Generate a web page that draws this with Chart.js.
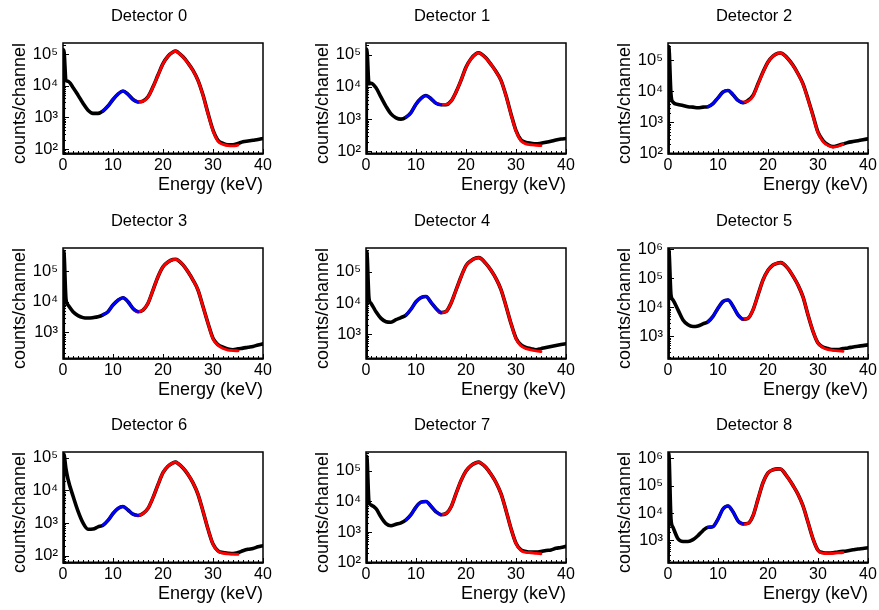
<!DOCTYPE html>
<html>
<head>
<meta charset="utf-8">
<title>Detector energy spectra</title>
<script src="https://cdn.jsdelivr.net/npm/chart.js@4/dist/chart.umd.min.js"></script>
<style>
  html, body { margin: 0; padding: 0; background: #fff; width: 879px; height: 610px; overflow: hidden; position: relative; }
  canvas { position: absolute; }
</style>
</head>
<body>
<script>
// Energy grid of the measured spectra (keV)
const energy = [0, 0.15, 0.6, 1, 2, 3, 4, 5, 6, 7, 8, 9, 10, 11, 12, 13, 14, 15, 16, 17, 18, 19, 20, 21, 22, 22.5,
                23, 24, 25, 26, 27, 28, 29, 30, 31, 32, 33, 34, 35, 36, 37, 38, 39, 40];

// Measured counts per channel, one array per detector
const det0 = [12, 140000, 15000, 14000, 8900, 5100, 2800, 1700, 1350, 1350, 1600, 2300, 3700, 5500, 6900, 5400, 3700, 3100, 3300, 4500, 9300, 22000, 51000, 87000, 118000, 127000,
              115000, 83000, 53000, 31000, 15000, 5100, 1350, 400, 190, 150, 135, 135, 150, 170, 180, 190, 200, 215];
const det1 = [12, 150000, 12500, 13000, 9400, 4800, 2500, 1450, 1100, 1000, 1150, 1600, 2900, 4400, 5400, 4300, 3100, 2800, 2800, 3600, 6900, 16000, 41000, 75000, 107000, 115000,
              107000, 79000, 50000, 30000, 16000, 5400, 1450, 440, 225, 190, 178, 170, 178, 190, 205, 225, 240, 250];
const det2 = [12, 280000, 8000, 4500, 3800, 3500, 3200, 3100, 2950, 3100, 3200, 4000, 6200, 9500, 10700, 7800, 5100, 4300, 5100, 7400, 17500, 42000, 89000, 138000, 170000, 173000,
              160000, 113000, 69000, 37000, 17500, 5700, 1660, 480, 260, 190, 165, 180, 200, 225, 240, 257, 275, 295];
const det3 = [12, 450000, 12000, 7800, 4700, 3500, 3000, 2900, 3000, 3200, 3700, 4700, 7800, 11200, 13500, 10000, 6000, 4700, 5300, 8900, 24000, 66000, 140000, 200000, 240000, 245000,
              230000, 160000, 95000, 51000, 24000, 6900, 1950, 630, 390, 320, 280, 265, 285, 300, 320, 340, 380, 415];
const det4 = [12, 450000, 14000, 9800, 5200, 3200, 2500, 2400, 2900, 3400, 4100, 6300, 11000, 15000, 16200, 10500, 6700, 4900, 5300, 9800, 26000, 69000, 160000, 230000, 280000, 290000,
              270000, 185000, 113000, 61000, 27000, 8000, 2200, 740, 450, 370, 340, 315, 340, 370, 400, 430, 460, 490];
const det5 = [12, 1000000, 27000, 18000, 8200, 3700, 2500, 2200, 2300, 2700, 3200, 4900, 9400, 16000, 18000, 11000, 5500, 3900, 4200, 8200, 27000, 88000, 190000, 290000, 340000, 350000,
              330000, 220000, 120000, 59000, 23000, 5500, 1500, 590, 430, 380, 350, 350, 380, 400, 430, 460, 480, 510];
const det6 = [12, 130000, 45000, 22000, 6700, 2300, 1000, 640, 650, 760, 850, 1200, 1950, 2800, 3200, 2500, 1860, 1700, 1950, 2800, 6000, 15000, 35000, 55000, 70000, 74000,
              67000, 49000, 31000, 17000, 7600, 2300, 650, 225, 140, 123, 118, 115, 123, 140, 155, 165, 185, 200];
const det7 = [12, 300000, 9500, 7700, 5800, 3100, 1900, 1600, 1800, 2000, 2500, 3700, 6600, 9500, 10000, 7000, 4600, 3700, 4000, 6600, 18000, 48000, 100000, 150000, 185000, 195000,
              180000, 130000, 78000, 42000, 18000, 5100, 1300, 430, 260, 230, 220, 220, 230, 250, 260, 295, 310, 340];
const det8 = [12, 1500000, 6000, 3000, 1150, 920, 920, 1070, 1500, 2300, 3000, 3200, 6000, 14000, 18000, 11000, 5200, 4000, 4200, 7900, 32000, 126000, 290000, 375000, 405000, 400000,
              340000, 190000, 100000, 48000, 18000, 4600, 1150, 440, 360, 345, 355, 380, 400, 425, 455, 490, 510, 540];

// Fit to the escape peak region (blue) and the main peak region (red)
const blueEnergy = [8, 9, 10, 11, 12, 13, 14, 15];
const redEnergy = [14.5, 15, 16, 17, 18, 19, 20, 21, 22, 22.5, 23, 24, 25, 26, 27, 28, 29, 30, 31, 32, 33, 34, 35];

const blue0 = [1600, 2300, 3700, 5500, 6800, 5400, 3700, 3050];
const red0 = [3350, 3150, 3250, 4400, 9100, 21500, 50000, 86000, 117000, 125000, 114000, 82000, 52000, 30500, 14800, 5000, 1300, 380, 175, 140, 128, 125, 132];
const blue1 = [1150, 1600, 2900, 4400, 5400, 4300, 3100, 2800];
const red1 = [3000, 2850, 2850, 3550, 6800, 16000, 40000, 74000, 106000, 114000, 106000, 78000, 50000, 29500, 15800, 5300, 1400, 420, 210, 170, 160, 152, 150];
const blue2 = [3200, 4000, 6200, 9500, 10700, 7800, 5100, 4300];
const red2 = [4800, 4500, 4800, 7000, 17000, 41000, 88000, 137000, 169000, 172000, 159000, 112000, 68000, 36500, 17000, 5500, 1600, 460, 240, 180, 160, 170, 195];
const blue3 = [3700, 4700, 7800, 11200, 13500, 10000, 6000, 4700];
const red3 = [5000, 4700, 5300, 8900, 24000, 66000, 140000, 200000, 240000, 245000, 230000, 160000, 95000, 51000, 24000, 6900, 1950, 600, 370, 290, 260, 250, 245];
const blue4 = [4100, 6300, 11000, 15000, 16200, 10500, 6700, 4900];
const red4 = [5300, 4900, 5300, 9800, 26000, 69000, 160000, 230000, 280000, 290000, 270000, 185000, 113000, 61000, 27000, 8000, 2200, 700, 420, 340, 310, 290, 275];
const blue5 = [3200, 4900, 9400, 16000, 18000, 11000, 5500, 3900];
const red5 = [4300, 3900, 4200, 8200, 27000, 88000, 190000, 290000, 340000, 350000, 330000, 220000, 120000, 59000, 23000, 5500, 1500, 580, 410, 350, 330, 315, 305];
const blue6 = [850, 1200, 1950, 2800, 3200, 2500, 1860, 1700];
const red6 = [1750, 1700, 1950, 2800, 6000, 15000, 35000, 55000, 70000, 74000, 67000, 49000, 31000, 17000, 7600, 2300, 650, 220, 135, 118, 112, 110, 108];
const blue7 = [2500, 3700, 6600, 9500, 10000, 7000, 4600, 3700];
const red7 = [4000, 3700, 4000, 6600, 18000, 48000, 100000, 150000, 185000, 195000, 180000, 130000, 78000, 42000, 18000, 5100, 1300, 420, 250, 215, 210, 200, 195];
const blue8 = [3000, 3200, 6000, 14000, 18000, 11000, 5200, 4000];
const red8 = [4300, 4000, 4200, 7900, 32000, 126000, 290000, 375000, 405000, 400000, 340000, 190000, 100000, 48000, 18000, 4600, 1150, 430, 345, 330, 340, 350, 360];

// Panel titles and vertical axis ranges
const titles = ['Detector 0', 'Detector 1', 'Detector 2', 'Detector 3', 'Detector 4', 'Detector 5', 'Detector 6', 'Detector 7', 'Detector 8'];
const yMin = [69.5, 82.6, 95.5, 132, 158, 166, 59, 97, 151];
const yMax = [228000, 231000, 363000, 575000, 590000, 1120000, 151000, 417000, 1660000];
const xTicks = [0, 10, 20, 30, 40];

const counts = [det0, det1, det2, det3, det4, det5, det6, det7, det8];
const blueFits = [blue0, blue1, blue2, blue3, blue4, blue5, blue6, blue7, blue8];
const redFits = [red0, red1, red2, red3, red4, red5, red6, red7, red8];

const FONT = '"Liberation Sans", Arial, Helvetica, sans-serif';
const SUP = { '0': '⁰', '1': '¹', '2': '²', '3': '³', '4': '⁴', '5': '⁵', '6': '⁶', '7': '⁷', '8': '⁸', '9': '⁹' };
function decadeLabel(v) {
  const e = Math.round(Math.log10(v));
  return '10' + String(e).split('').map(c => SUP[c]).join('');
}

// Frame around the plot area with inward tick marks on the bottom and left axes
const frameAxes = {
  id: 'frameAxes',
  afterDatasetsDraw(chart) {
    const { ctx, chartArea: a, scales: { x, y } } = chart;
    ctx.save();
    ctx.strokeStyle = '#000';
    ctx.lineWidth = 1.5;
    ctx.strokeRect(a.left, a.top, a.right - a.left, a.bottom - a.top);
    ctx.lineWidth = 2;
    ctx.beginPath();
    ctx.moveTo(a.left, a.bottom - 0.5);
    ctx.lineTo(a.right, a.bottom - 0.5);
    ctx.stroke();
    ctx.lineWidth = 1;
    ctx.beginPath();
    for (let e = 0; e <= 40; e += 1) {
      const px = Math.round(x.getPixelForValue(e)) + 0.5;
      const len = e % 10 === 0 ? 5 : 3;
      ctx.moveTo(px, a.bottom);
      ctx.lineTo(px, a.bottom - len);
    }
    const lo = Math.floor(Math.log10(y.min)), hi = Math.ceil(Math.log10(y.max));
    for (let d = lo; d <= hi; d++) {
      for (let m = 1; m <= 9; m++) {
        const v = m * Math.pow(10, d);
        if (v < y.min || v > y.max) continue;
        const py = Math.round(y.getPixelForValue(v)) + 0.5;
        const len = m === 1 ? 6 : 3;
        ctx.moveTo(a.left, py);
        ctx.lineTo(a.left + len, py);
      }
    }
    ctx.stroke();
    ctx.restore();
  }
};

const colLeft = [0, 303, 605];
const rowTop = [0, 205, 409];

titles.forEach((title, i) => {
  const col = i % 3, row = Math.floor(i / 3);
  const cv = document.createElement('canvas');
  cv.width = 298;
  cv.height = 200;
  cv.style.left = colLeft[col] + 'px';
  cv.style.top = rowTop[row] + 'px';
  cv.style.width = '298px';
  cv.style.height = '200px';
  document.body.appendChild(cv);

  const lo = yMin[i], hi = yMax[i];
  const decades = [];
  for (let d = Math.ceil(Math.log10(lo)); d <= Math.floor(Math.log10(hi)); d++) decades.push(Math.pow(10, d));

  new Chart(cv, {
    type: 'line',
    data: {
      datasets: [
        {
          label: 'data',
          data: energy.map((e, k) => ({ x: e, y: counts[i][k] })),
          borderColor: '#000', borderWidth: 3.6, clip: 0, yAxisID: 'y', order: 3
        },
        {
          label: 'fit 8-15 keV',
          data: blueEnergy.map((e, k) => ({ x: e, y: blueFits[i][k] })),
          borderColor: '#0000ff', borderWidth: 2.8, clip: 0, yAxisID: 'y', order: 1
        },
        {
          label: 'fit 15-35 keV',
          data: redEnergy.map((e, k) => ({ x: e, y: redFits[i][k] })),
          borderColor: '#ff0000', borderWidth: 2.8, clip: 0, yAxisID: 'y', order: 2
        }
      ]
    },
    options: {
      responsive: false,
      animation: false,
      devicePixelRatio: 1,
      layout: { padding: 0 },
      elements: {
        point: { radius: 0, hoverRadius: 0 },
        line: { cubicInterpolationMode: 'monotone', borderCapStyle: 'round', borderJoinStyle: 'round', fill: false }
      },
      plugins: {
        legend: { display: false },
        tooltip: { enabled: false },
        title: {
          display: true, text: title, color: '#000',
          font: { family: FONT, size: 16.5, weight: 'normal' },
          padding: { top: 7, bottom: 16.2 }
        }
      },
      scales: {
        x: {
          type: 'linear', position: 'bottom', min: 0, max: 40,
          afterBuildTicks: s => { s.ticks = xTicks.map(v => ({ value: v })); },
          afterFit: s => { s.height = 46; s.paddingLeft = 0; s.paddingRight = 0; },
          grid: { display: false, drawTicks: false },
          border: { display: false },
          ticks: { color: '#000', font: { family: FONT, size: 16 }, padding: 1.5, maxRotation: 0, autoSkip: false },
          title: {
            display: true, text: 'Energy (keV)', align: 'end', color: '#000',
            font: { family: FONT, size: 18 }, padding: { top: 0, bottom: 4.6 }
          }
        },
        y: {
          type: 'logarithmic', position: 'left', min: lo, max: hi,
          afterBuildTicks: s => { s.ticks = decades.map(v => ({ value: v })); },
          afterFit: s => { s.width = 63; s.paddingTop = 0; s.paddingBottom = 0; },
          grid: { display: false, drawTicks: false },
          border: { display: false },
          ticks: {
            color: '#000', font: { family: FONT, size: 16.5 }, padding: 5, autoSkip: false,
            callback: v => decadeLabel(v)
          },
          title: {
            display: true, text: 'counts/channel', align: 'end', color: '#000',
            font: { family: FONT, size: 18 }, padding: { top: 9.2, bottom: 0 }
          }
        },
        yR: {
          type: 'linear', position: 'right', display: true,
          afterFit: s => { s.width = 35; },
          grid: { display: false, drawTicks: false },
          border: { display: false },
          ticks: { display: false },
          title: { display: false }
        }
      }
    },
    plugins: [frameAxes]
  });
});
</script>
</body>
</html>
